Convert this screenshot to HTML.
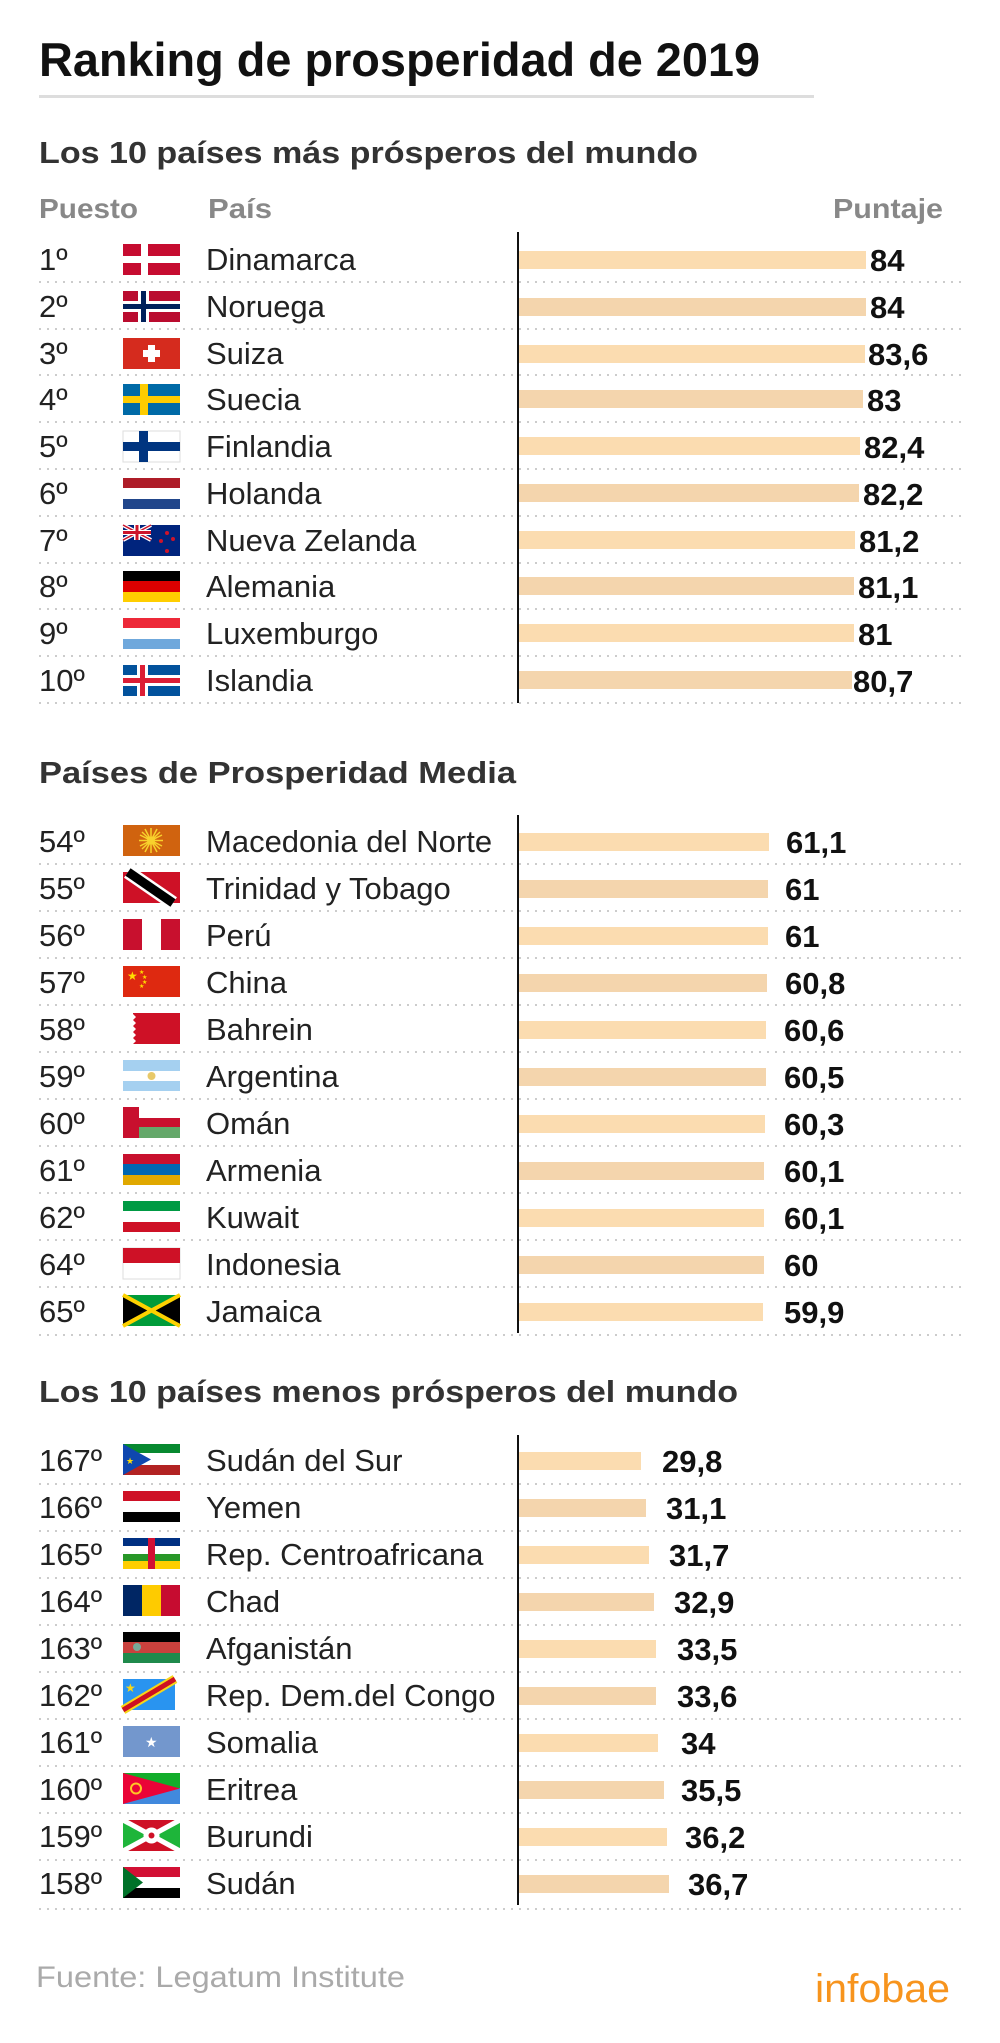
<!DOCTYPE html>
<html><head><meta charset="utf-8"><style>
html,body{margin:0;padding:0;background:#fff}
svg{display:block}
text{font-family:"Liberation Sans",sans-serif}
.r{font-size:31px;fill:#222}
.v{font-size:31px;font-weight:bold;fill:#111}
.h{font-size:31px;font-weight:bold;fill:#333}
.g{font-size:28px;font-weight:bold;fill:#888}
.d{stroke:#ccc;stroke-width:2;stroke-dasharray:2 6}
</style></head><body>
<svg width="1000" height="2043" viewBox="0 0 1000 2043" xmlns="http://www.w3.org/2000/svg">
<text x="39" y="76" font-size="47" font-weight="bold" fill="#111" textLength="721" lengthAdjust="spacingAndGlyphs">Ranking de prosperidad de 2019</text>
<rect x="39" y="95" width="775" height="3" fill="#ddd"/>
<text x="39" y="163" class="h" textLength="659" lengthAdjust="spacingAndGlyphs">Los 10 países más prósperos del mundo</text>
<text x="39" y="218" class="g" textLength="99" lengthAdjust="spacingAndGlyphs">Puesto</text>
<text x="208" y="218" class="g" textLength="64" lengthAdjust="spacingAndGlyphs">País</text>
<text x="943" y="218" class="g" text-anchor="end" textLength="110" lengthAdjust="spacingAndGlyphs">Puntaje</text>

<text x="39" y="783" class="h" textLength="477" lengthAdjust="spacingAndGlyphs">Países de Prosperidad Media</text>
<text x="39" y="1402" class="h" textLength="699" lengthAdjust="spacingAndGlyphs">Los 10 países menos prósperos del mundo</text>

<rect x="517" y="232" width="2" height="471" fill="#111"/>
<rect x="517" y="815" width="2" height="518" fill="#111"/>
<rect x="517" y="1435" width="2" height="470" fill="#111"/>

<text x="36" y="1987" font-size="30" fill="#aaa" textLength="369" lengthAdjust="spacingAndGlyphs">Fuente: Legatum Institute</text>
<text x="950" y="2002" font-size="40" fill="#f7941d" text-anchor="end" textLength="135" lengthAdjust="spacingAndGlyphs">infobae</text>

<g>
<line x1="39" y1="282" x2="965" y2="282" class="d"/><line x1="39" y1="329" x2="965" y2="329" class="d"/><line x1="39" y1="375" x2="965" y2="375" class="d"/><line x1="39" y1="422" x2="965" y2="422" class="d"/><line x1="39" y1="469" x2="965" y2="469" class="d"/><line x1="39" y1="516" x2="965" y2="516" class="d"/><line x1="39" y1="563" x2="965" y2="563" class="d"/><line x1="39" y1="609" x2="965" y2="609" class="d"/><line x1="39" y1="656" x2="965" y2="656" class="d"/><line x1="39" y1="703" x2="965" y2="703" class="d"/>
<text x="39" y="270" class="r">1º</text><text x="206" y="270" class="r">Dinamarca</text>
<rect x="519" y="251" width="347" height="18" fill="#fbdcb0"/><text x="870" y="271" class="v">84</text>
<g transform="translate(123,244)"><rect width="57" height="31" fill="#c60c30"/><rect x="18" width="7" height="31" fill="#fff"/><rect y="12" width="57" height="7" fill="#fff"/></g>
<text x="39" y="317" class="r">2º</text><text x="206" y="317" class="r">Noruega</text>
<rect x="519" y="298" width="347" height="18" fill="#f4d5ad"/><text x="870" y="318" class="v">84</text>
<g transform="translate(123,291)"><rect width="57" height="31" fill="#ba0c2f"/><rect x="15" width="11" height="31" fill="#fff"/><rect y="10" width="57" height="11" fill="#fff"/><rect x="18" width="5" height="31" fill="#00205b"/><rect y="13" width="57" height="5" fill="#00205b"/></g>
<text x="39" y="364" class="r">3º</text><text x="206" y="364" class="r">Suiza</text>
<rect x="519" y="345" width="346" height="18" fill="#fbdcb0"/><text x="868" y="365" class="v">83,6</text>
<g transform="translate(123,338)"><rect width="57" height="31" fill="#d52b1e"/><rect x="25" y="7" width="7" height="17" fill="#fff"/><rect x="20" y="12" width="17" height="7" fill="#fff"/></g>
<text x="39" y="410" class="r">4º</text><text x="206" y="410" class="r">Suecia</text>
<rect x="519" y="390" width="344" height="18" fill="#f4d5ad"/><text x="867" y="411" class="v">83</text>
<g transform="translate(123,384)"><rect width="57" height="31" fill="#006aa7"/><rect x="17" width="8" height="31" fill="#fecc00"/><rect y="12" width="57" height="7" fill="#fecc00"/></g>
<text x="39" y="457" class="r">5º</text><text x="206" y="457" class="r">Finlandia</text>
<rect x="519" y="437" width="341" height="18" fill="#fbdcb0"/><text x="864" y="458" class="v">82,4</text>
<g transform="translate(123,431)"><rect width="57" height="31" fill="#fff" stroke="#ddd"/><rect x="16" width="9" height="31" fill="#003580"/><rect y="11" width="57" height="9" fill="#003580"/></g>
<text x="39" y="504" class="r">6º</text><text x="206" y="504" class="r">Holanda</text>
<rect x="519" y="484" width="340" height="18" fill="#f4d5ad"/><text x="863" y="505" class="v">82,2</text>
<g transform="translate(123,478)"><rect width="57" height="11" fill="#ae1c28"/><rect y="10" width="57" height="11" fill="#fff"/><rect y="21" width="57" height="10" fill="#21468b"/></g>
<text x="39" y="551" class="r">7º</text><text x="206" y="551" class="r">Nueva Zelanda</text>
<rect x="519" y="531" width="336" height="18" fill="#fbdcb0"/><text x="859" y="552" class="v">81,2</text>
<g transform="translate(123,525)"><rect width="57" height="31" fill="#00247d"/><path d="M0 0L28 15M28 0L0 15" stroke="#fff" stroke-width="4"/><path d="M0 0L28 15M28 0L0 15" stroke="#cc142b" stroke-width="1.5"/><rect x="11" width="6" height="15" fill="#fff"/><rect y="5" width="28" height="5" fill="#fff"/><rect x="12.5" width="3" height="15" fill="#cc142b"/><rect y="6" width="28" height="3" fill="#cc142b"/><circle cx="44" cy="8" r="2" fill="#cc142b"/><circle cx="38" cy="16" r="2" fill="#cc142b"/><circle cx="50" cy="14" r="2" fill="#cc142b"/><circle cx="44" cy="26" r="2" fill="#cc142b"/></g>
<text x="39" y="597" class="r">8º</text><text x="206" y="597" class="r">Alemania</text>
<rect x="519" y="577" width="335" height="18" fill="#f4d5ad"/><text x="858" y="598" class="v">81,1</text>
<g transform="translate(123,571)"><rect width="57" height="11" fill="#000"/><rect y="10" width="57" height="11" fill="#dd0000"/><rect y="21" width="57" height="10" fill="#ffce00"/></g>
<text x="39" y="644" class="r">9º</text><text x="206" y="644" class="r">Luxemburgo</text>
<rect x="519" y="624" width="335" height="18" fill="#fbdcb0"/><text x="858" y="645" class="v">81</text>
<g transform="translate(123,618)"><rect width="57" height="11" fill="#ed2939"/><rect y="10" width="57" height="11" fill="#fff"/><rect y="21" width="57" height="10" fill="#6fa8dc"/></g>
<text x="39" y="691" class="r">10º</text><text x="206" y="691" class="r">Islandia</text>
<rect x="519" y="671" width="333" height="18" fill="#f4d5ad"/><text x="853" y="692" class="v">80,7</text>
<g transform="translate(123,665)"><rect width="57" height="31" fill="#02529c"/><rect x="14" width="11" height="31" fill="#fff"/><rect y="10" width="57" height="11" fill="#fff"/><rect x="17" width="5" height="31" fill="#dc1e35"/><rect y="13" width="57" height="5" fill="#dc1e35"/></g>
</g>

<g>
<line x1="39" y1="864" x2="965" y2="864" class="d"/><line x1="39" y1="911" x2="965" y2="911" class="d"/><line x1="39" y1="958" x2="965" y2="958" class="d"/><line x1="39" y1="1005" x2="965" y2="1005" class="d"/><line x1="39" y1="1052" x2="965" y2="1052" class="d"/><line x1="39" y1="1099" x2="965" y2="1099" class="d"/><line x1="39" y1="1146" x2="965" y2="1146" class="d"/><line x1="39" y1="1193" x2="965" y2="1193" class="d"/><line x1="39" y1="1240" x2="965" y2="1240" class="d"/><line x1="39" y1="1287" x2="965" y2="1287" class="d"/><line x1="39" y1="1335" x2="965" y2="1335" class="d"/>
<text x="39" y="852" class="r">54º</text><text x="206" y="852" class="r">Macedonia del Norte</text>
<rect x="519" y="833" width="250" height="18" fill="#fbdcb0"/><text x="786" y="853" class="v">61,1</text>
<g transform="translate(123,825)"><rect width="57" height="31" fill="#d0630f"/><g stroke="#f8d12c" stroke-width="1.5"><path d="M28 3V28M16 15.5H40M19 7L37 24M37 7L19 24M22 4L34 27M34 4L22 27M17 10L39 21M39 10L17 21"/></g><circle cx="28" cy="15.5" r="4" fill="#f8d12c"/></g>
<text x="39" y="899" class="r">55º</text><text x="206" y="899" class="r">Trinidad y Tobago</text>
<rect x="519" y="880" width="249" height="18" fill="#f4d5ad"/><text x="785" y="900" class="v">61</text>
<g transform="translate(123,872)"><rect width="57" height="31" fill="#ce1126"/><path d="M5 0L50 31" stroke="#fff" stroke-width="14"/><path d="M5 0L50 31" stroke="#000" stroke-width="9"/></g>
<text x="39" y="946" class="r">56º</text><text x="206" y="946" class="r">Perú</text>
<rect x="519" y="927" width="249" height="18" fill="#fbdcb0"/><text x="785" y="947" class="v">61</text>
<g transform="translate(123,919)"><rect width="19" height="31" fill="#c8102e"/><rect x="38" width="19" height="31" fill="#c8102e"/></g>
<text x="39" y="993" class="r">57º</text><text x="206" y="993" class="r">China</text>
<rect x="519" y="974" width="248" height="18" fill="#f4d5ad"/><text x="785" y="994" class="v">60,8</text>
<g transform="translate(123,966)"><rect width="57" height="31" fill="#de2910"/><text x="4" y="14" font-size="12" fill="#ffde00">★</text><text x="16" y="8" font-size="6" fill="#ffde00">★</text><text x="19" y="13" font-size="6" fill="#ffde00">★</text><text x="19" y="18" font-size="6" fill="#ffde00">★</text><text x="16" y="22" font-size="6" fill="#ffde00">★</text></g>
<text x="39" y="1040" class="r">58º</text><text x="206" y="1040" class="r">Bahrein</text>
<rect x="519" y="1021" width="247" height="18" fill="#fbdcb0"/><text x="784" y="1041" class="v">60,6</text>
<g transform="translate(123,1013)"><path d="M10 0H57V31H10L13 28L10 25L13 22L10 19L13 16L10 13L13 10L10 7L13 4L10 1Z" fill="#ce1126"/></g>
<text x="39" y="1087" class="r">59º</text><text x="206" y="1087" class="r">Argentina</text>
<rect x="519" y="1068" width="247" height="18" fill="#f4d5ad"/><text x="784" y="1088" class="v">60,5</text>
<g transform="translate(123,1060)"><rect width="57" height="11" fill="#a5d0f0"/><rect y="21" width="57" height="10" fill="#a5d0f0"/><circle cx="28.5" cy="16" r="4" fill="#e8c96a"/></g>
<text x="39" y="1134" class="r">60º</text><text x="206" y="1134" class="r">Omán</text>
<rect x="519" y="1115" width="246" height="18" fill="#fbdcb0"/><text x="784" y="1135" class="v">60,3</text>
<g transform="translate(123,1107)"><rect width="57" height="31" fill="#fff"/><rect width="16" height="31" fill="#c8102e"/><rect x="16" y="11" width="41" height="9" fill="#c8102e"/><rect x="16" y="20" width="41" height="11" fill="#64a86a"/></g>
<text x="39" y="1181" class="r">61º</text><text x="206" y="1181" class="r">Armenia</text>
<rect x="519" y="1162" width="245" height="18" fill="#f4d5ad"/><text x="784" y="1182" class="v">60,1</text>
<g transform="translate(123,1154)"><rect width="57" height="11" fill="#c8102e"/><rect y="10" width="57" height="11" fill="#0066b2"/><rect y="21" width="57" height="10" fill="#e0a800"/></g>
<text x="39" y="1228" class="r">62º</text><text x="206" y="1228" class="r">Kuwait</text>
<rect x="519" y="1209" width="245" height="18" fill="#fbdcb0"/><text x="784" y="1229" class="v">60,1</text>
<g transform="translate(123,1201)"><rect width="57" height="10" fill="#009a44"/><rect y="21" width="57" height="10" fill="#ce1126"/></g>
<text x="39" y="1275" class="r">64º</text><text x="206" y="1275" class="r">Indonesia</text>
<rect x="519" y="1256" width="245" height="18" fill="#f4d5ad"/><text x="784" y="1276" class="v">60</text>
<g transform="translate(123,1248)"><rect width="57" height="31" fill="#fff" stroke="#ddd"/><rect width="57" height="15" fill="#ce1126"/></g>
<text x="39" y="1322" class="r">65º</text><text x="206" y="1322" class="r">Jamaica</text>
<rect x="519" y="1303" width="244" height="18" fill="#fbdcb0"/><text x="784" y="1323" class="v">59,9</text>
<g transform="translate(123,1295)"><rect width="57" height="31" fill="#009b3a"/><path d="M0 0L28.5 15.5L0 31ZM57 0L28.5 15.5L57 31Z" fill="#000"/><path d="M0 0L57 31M57 0L0 31" stroke="#fed100" stroke-width="4"/></g>
</g>

<g>
<line x1="39" y1="1484" x2="965" y2="1484" class="d"/><line x1="39" y1="1531" x2="965" y2="1531" class="d"/><line x1="39" y1="1578" x2="965" y2="1578" class="d"/><line x1="39" y1="1625" x2="965" y2="1625" class="d"/><line x1="39" y1="1672" x2="965" y2="1672" class="d"/><line x1="39" y1="1719" x2="965" y2="1719" class="d"/><line x1="39" y1="1766" x2="965" y2="1766" class="d"/><line x1="39" y1="1813" x2="965" y2="1813" class="d"/><line x1="39" y1="1860" x2="965" y2="1860" class="d"/><line x1="39" y1="1909" x2="965" y2="1909" class="d"/>
<text x="39" y="1471" class="r">167º</text><text x="206" y="1471" class="r">Sudán del Sur</text>
<rect x="519" y="1452" width="122" height="18" fill="#fbdcb0"/><text x="662" y="1472" class="v">29,8</text>
<g transform="translate(123,1444)"><rect width="57" height="31" fill="#fff"/><rect width="57" height="9" fill="#078930"/><rect y="21" width="57" height="10" fill="#b22222"/><rect y="10" width="57" height="10" fill="#fff"/><path d="M0 0L28 15.5L0 31Z" fill="#0f47af"/><text x="3" y="20" font-size="9" fill="#fcdd09">★</text></g>
<text x="39" y="1518" class="r">166º</text><text x="206" y="1518" class="r">Yemen</text>
<rect x="519" y="1499" width="127" height="18" fill="#f4d5ad"/><text x="666" y="1519" class="v">31,1</text>
<g transform="translate(123,1491)"><rect width="57" height="10" fill="#ce1126"/><rect y="21" width="57" height="10" fill="#000"/></g>
<text x="39" y="1565" class="r">165º</text><text x="206" y="1565" class="r">Rep. Centroafricana</text>
<rect x="519" y="1546" width="130" height="18" fill="#fbdcb0"/><text x="669" y="1566" class="v">31,7</text>
<g transform="translate(123,1538)"><rect width="57" height="8" fill="#003082"/><rect y="8" width="57" height="8" fill="#fff"/><rect y="16" width="57" height="7" fill="#289728"/><rect y="23" width="57" height="8" fill="#ffce00"/><rect x="25" width="7" height="31" fill="#d21034"/></g>
<text x="39" y="1612" class="r">164º</text><text x="206" y="1612" class="r">Chad</text>
<rect x="519" y="1593" width="135" height="18" fill="#f4d5ad"/><text x="674" y="1613" class="v">32,9</text>
<g transform="translate(123,1585)"><rect width="19" height="31" fill="#002664"/><rect x="19" width="19" height="31" fill="#fecb00"/><rect x="38" width="19" height="31" fill="#c60c30"/></g>
<text x="39" y="1659" class="r">163º</text><text x="206" y="1659" class="r">Afganistán</text>
<rect x="519" y="1640" width="137" height="18" fill="#fbdcb0"/><text x="677" y="1660" class="v">33,5</text>
<g transform="translate(123,1632)"><rect width="57" height="10" fill="#000"/><rect y="10" width="57" height="11" fill="#c9413d"/><rect y="21" width="57" height="10" fill="#1f8a4c"/><circle cx="14" cy="15" r="4" fill="#7a9"/></g>
<text x="39" y="1706" class="r">162º</text><text x="206" y="1706" class="r">Rep. Dem.del Congo</text>
<rect x="519" y="1687" width="137" height="18" fill="#f4d5ad"/><text x="677" y="1707" class="v">33,6</text>
<g transform="translate(123,1679)"><rect width="52" height="31" fill="#2994f0"/><path d="M0 31L52 0" stroke="#f7d618" stroke-width="9"/><path d="M0 31L52 0" stroke="#ce1021" stroke-width="5"/><text x="2" y="13" font-size="12" fill="#f7d618">★</text></g>
<text x="39" y="1753" class="r">161º</text><text x="206" y="1753" class="r">Somalia</text>
<rect x="519" y="1734" width="139" height="18" fill="#fbdcb0"/><text x="681" y="1754" class="v">34</text>
<g transform="translate(123,1726)"><rect width="57" height="31" fill="#7397cd"/><text x="22" y="21" font-size="14" fill="#fff">★</text></g>
<text x="39" y="1800" class="r">160º</text><text x="206" y="1800" class="r">Eritrea</text>
<rect x="519" y="1781" width="145" height="18" fill="#f4d5ad"/><text x="681" y="1801" class="v">35,5</text>
<g transform="translate(123,1773)"><rect width="57" height="16" fill="#12ad2b"/><rect y="15" width="57" height="16" fill="#4189dd"/><path d="M0 0L57 15.5L0 31Z" fill="#ea0437"/><circle cx="13" cy="15.5" r="5" fill="none" stroke="#ffc726" stroke-width="2"/></g>
<text x="39" y="1847" class="r">159º</text><text x="206" y="1847" class="r">Burundi</text>
<rect x="519" y="1828" width="148" height="18" fill="#fbdcb0"/><text x="685" y="1848" class="v">36,2</text>
<g transform="translate(123,1820)"><rect width="57" height="31" fill="#ce1126"/><path d="M0 0L28.5 15.5L0 31ZM57 0L28.5 15.5L57 31Z" fill="#1eb53a"/><path d="M0 0L57 31M57 0L0 31" stroke="#fff" stroke-width="5"/><circle cx="28.5" cy="15.5" r="8" fill="#fff"/><circle cx="28.5" cy="15.5" r="3" fill="#ce1126"/></g>
<text x="39" y="1894" class="r">158º</text><text x="206" y="1894" class="r">Sudán</text>
<rect x="519" y="1875" width="150" height="18" fill="#f4d5ad"/><text x="688" y="1895" class="v">36,7</text>
<g transform="translate(123,1867)"><rect width="57" height="10" fill="#d21034"/><rect y="21" width="57" height="10" fill="#000"/><path d="M0 0L20 15.5L0 31Z" fill="#007229"/></g>
</g>
</svg>
</body></html>
